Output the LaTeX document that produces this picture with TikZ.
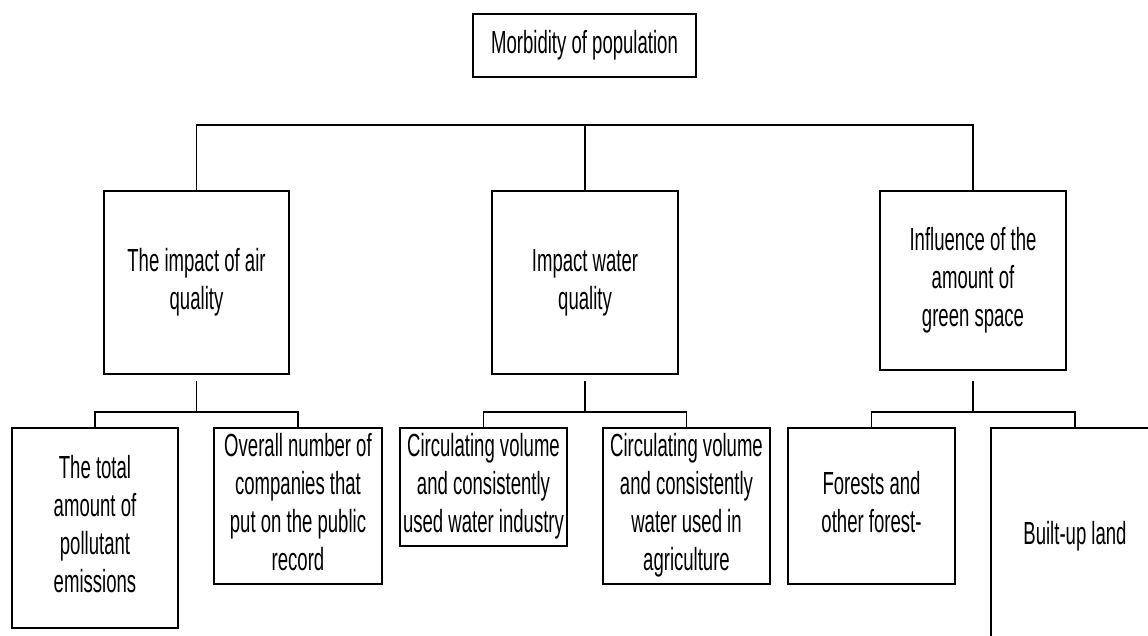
\documentclass[tikz,border=0pt]{standalone}
\usepackage{fontspec}
\usepackage{graphicx}
\setmainfont{Liberation Sans}
\newcommand{\narrowtext}[1]{\scalebox{0.58}[1]{\begin{tabular}{@{}c@{}}#1\end{tabular}}}
\begin{document}
\begin{tikzpicture}[x=1pt, y=-1pt, line width=1.3pt,
  factor/.style={draw, inner sep=0pt, align=center, font=\fontsize{32}{38}\selectfont}]
\clip (0,0) rectangle (1148,635);
% top level
\node[factor, minimum width=223, minimum height=63] (morb) at (584.5,45.5) {\narrowtext{Morbidity of population}};
% groups
\node[factor, minimum width=185, minimum height=183] (air) at (196.5,282.5) {\narrowtext{The impact of air\\quality}};
\node[factor, minimum width=186, minimum height=183] (water) at (585,282.5) {\narrowtext{Impact water\\quality}};
\node[factor, minimum width=186, minimum height=179] (green) at (973,280.5) {\narrowtext{Influence of the\\amount of\\green space}};
% indicators
\node[factor, minimum width=166, minimum height=200] (emis) at (95,528) {\narrowtext{The total\\amount of\\pollutant\\emissions}};
\node[factor, minimum width=168, minimum height=156] (comp) at (298,506) {\narrowtext{Overall number of\\companies that\\put on the public\\record}};
\node[factor, minimum width=167, minimum height=118] (indus) at (483.5,487) {\narrowtext{Circulating volume\\and consistently\\used water industry}};
\node[factor, minimum width=167, minimum height=156] (agri) at (686.5,506) {\narrowtext{Circulating volume\\and consistently\\water used in\\agriculture}};
\node[factor, minimum width=167, minimum height=156] (forest) at (871.5,506) {\narrowtext{Forests and\\other forest-}};
\node[factor, minimum width=168, minimum height=218] (built) at (1075,537) {\narrowtext{Built-up land}};
% connectors
\coordinate (bar) at (585,125);
\draw (air.north) |- (bar) -| (green.north);
\draw (water.north) -- (bar);
\coordinate (airstub) at (196.5,381);
\coordinate (airfork) at (196.5,412);
\coordinate (waterstub) at (585,381);
\coordinate (waterfork) at (585,412);
\coordinate (greenstub) at (973,381);
\coordinate (greenfork) at (973,412);
\draw (airstub) -- (airfork);
\draw (emis.north) |- (airfork) -| (comp.north);
\draw (waterstub) -- (waterfork);
\draw (indus.north) |- (waterfork) -| (agri.north);
\draw (greenstub) -- (greenfork);
\draw (forest.north) |- (greenfork) -| (built.north);
\end{tikzpicture}
\end{document}
